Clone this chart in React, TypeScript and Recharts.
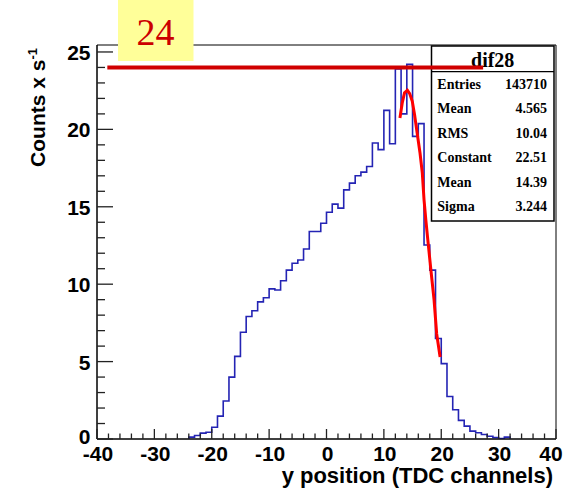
import React from "react";
import { LineChart, Line, XAxis, YAxis, ReferenceArea, ReferenceLine } from "recharts";

// histogram bins (low edge, width 1 channel) and rates
const BIN_LOW = [
    -24, -23, -22, -21, -20, -19, -18, -17, -16, -15, -14, -13, -12, -11,
    -10, -9, -8, -7, -6, -5, -4, -3, -2, -1, 0, 1, 2, 3,
    4, 5, 6, 7, 8, 9, 10, 11, 12, 13, 14, 15, 16, 17,
    18, 19, 20, 21, 22, 23, 24, 25, 26, 27, 28, 29, 30, 31,
];
const COUNTS = [
    0.12, 0.23, 0.38, 0.44, 0.76, 1.48, 2.45, 4.0, 5.34, 6.9, 7.91, 8.28, 8.86, 9.12,
    9.7, 9.62, 10.22, 10.91, 11.35, 11.56, 12.27, 13.4, 13.4, 13.94, 14.65, 15.17, 14.91, 16.09,
    16.53, 17.0, 17.24, 17.6, 19.12, 18.69, 21.23, 19.07, 23.9, 21.0, 24.2, 19.55, 20.37, 12.53,
    10.91, 6.49, 4.87, 2.75, 1.89, 1.2, 0.83, 0.51, 0.4, 0.29, 0.18, 0.1, 0.03, 0.12,
];
const HIST_END = 32;

// gaussian fit curve as drawn
const FIT_X = [12.8, 13.2, 13.6, 14.1, 14.5, 14.95, 15.35, 15.8, 16.3, 16.7, 17.0, 17.3, 17.6, 18.2, 18.75, 19.2, 19.8];
const FIT_Y = [20.74, 21.71, 22.36, 22.53, 22.31, 21.81, 20.95, 19.77, 18.47, 17.17, 15.45, 14.2, 13.07, 10.9, 8.97, 6.8, 5.3];

const X_TICKS = [
    -40, -38, -36, -34, -32, -30, -28, -26, -24, -22, -20, -18, -16, -14, -12, -10, -8, -6, -4, -2,
    0, 2, 4, 6, 8, 10, 12, 14, 16, 18, 20, 22, 24, 26, 28, 30, 32, 34, 36, 38, 40,
];
const Y_TICKS = [0, 1, 2, 3, 4, 5, 6, 7, 8, 9, 10, 11, 12, 13, 14, 15, 16, 17, 18, 19, 20, 21, 22, 23, 24, 25];
const Y_MAX = 25.45;

const MARKER_LEVEL = 24;
const MARKER_FROM = -38.2;
const MARKER_TO = 27.3;

const STATS_TITLE = "dif28";
const STATS_NAMES = ["Entries", "Mean", "RMS", "Constant", "Mean", "Sigma"];
const STATS_VALUES = ["143710", "4.565", "10.04", "22.51", "14.39", "3.244"];

const SANS = "'Liberation Sans', Arial, sans-serif";
const SERIF = "'Liberation Serif', 'Times New Roman', serif";

const histData = [
    { x: BIN_LOW[0], h: 0 },
    ...BIN_LOW.map((lo, i) => ({ x: lo, h: COUNTS[i] })),
    { x: HIST_END, h: 0 },
];
const fitData = FIT_X.map((x, i) => ({ x, y: FIT_Y[i] }));

function XTick({ x, y, payload }: any) {
    const major = payload.value % 10 === 0;
    // keep the last label inside the canvas, like the original
    const lx = Math.min(x + 1, 551);
    return (
        <g>
            <line x1={x} x2={x} y1={y} y2={y - (major ? 10 : 5.5)} stroke="#222" strokeWidth={1.3} />
            {major && (
                <text x={lx} y={y + 21.5} textAnchor="middle" fontFamily={SANS} fontWeight="bold" fontSize={21} fill="#000">
                    {payload.value}
                </text>
            )}
        </g>
    );
}

function YTick({ x, y, payload }: any) {
    const major = payload.value % 5 === 0;
    // the zero label sits a little higher so it clears the x labels
    const dy = payload.value === 0 ? 4.5 : 8;
    return (
        <g>
            <line x1={x} x2={x + (major ? 16 : 8)} y1={y} y2={y} stroke="#222" strokeWidth={1.3} />
            {major && (
                <text x={x - 6.5} y={y + dy} textAnchor="end" fontFamily={SANS} fontWeight="bold" fontSize={21} fill="#000">
                    {payload.value}
                </text>
            )}
        </g>
    );
}

function StatsBox() {
    return (
        <g>
            <rect x={431.5} y={46} width={122.5} height={175} fill="#fff" stroke="#000" strokeWidth={1.5} />
            <line x1={431.5} x2={554} y1={71.7} y2={71.7} stroke="#000" strokeWidth={1.2} />
            <text x={492.7} y={66.5} textAnchor="middle" fontFamily={SERIF} fontWeight="bold" fontSize={20} fill="#000">
                {STATS_TITLE}
            </text>
            {STATS_NAMES.map((name, i) => (
                <g key={i}>
                    <text x={437.3} y={89 + i * 24.4} fontFamily={SERIF} fontWeight="bold" fontSize={14} fill="#000">
                        {name}
                    </text>
                    <text x={547} y={89 + i * 24.4} textAnchor="end" fontFamily={SERIF} fontWeight="bold" fontSize={14} fill="#000">
                        {STATS_VALUES[i]}
                    </text>
                </g>
            ))}
        </g>
    );
}

export default function App() {
    return (
        <div style={{ position: "absolute", left: 0, top: 0, width: 564, height: 489, background: "#fff" }}>
            <LineChart width={564} height={489} margin={{ top: 45, right: 8, left: 0, bottom: 0 }}>
                <XAxis
                    type="number"
                    dataKey="x"
                    domain={[-40, 40]}
                    ticks={X_TICKS}
                    interval={0}
                    tickSize={0}
                    tickMargin={0}
                    tick={<XTick />}
                    axisLine={{ stroke: "#000" }}
                    height={50}
                    allowDataOverflow
                />
                <YAxis
                    type="number"
                    domain={[0, Y_MAX]}
                    ticks={Y_TICKS}
                    interval={0}
                    tickSize={0}
                    tickMargin={0}
                    tick={<YTick />}
                    axisLine={{ stroke: "#000" }}
                    width={97}
                    allowDataOverflow
                />
                <ReferenceArea x1={-40} x2={40} y1={0} y2={Y_MAX} fill="none" stroke="#000" strokeWidth={1} />
                <Line
                    data={histData}
                    dataKey="h"
                    type="stepAfter"
                    stroke="#2424b4"
                    strokeWidth={1.6}
                    dot={false}
                    activeDot={false}
                    isAnimationActive={false}
                />
                <Line
                    data={fitData}
                    dataKey="y"
                    type="linear"
                    stroke="#ff0000"
                    strokeWidth={3}
                    dot={false}
                    activeDot={false}
                    isAnimationActive={false}
                />
                <StatsBox />
                <ReferenceLine
                    segment={[{ x: MARKER_FROM, y: MARKER_LEVEL }, { x: MARKER_TO, y: MARKER_LEVEL }]}
                    stroke="#d00000"
                    strokeWidth={4}
                    ifOverflow="visible"
                />
            </LineChart>
            <svg width={564} height={489} style={{ position: "absolute", left: 0, top: 0, pointerEvents: "none" }}>
                <text
                    transform="translate(45,48) rotate(-90)"
                    textAnchor="end"
                    fontFamily={SANS}
                    fontWeight="bold"
                    fontSize={21}
                    fill="#000"
                >
                    Counts x s<tspan dy={-8} fontSize={13}>-1</tspan>
                </text>
                <text x={553} y={483} textAnchor="end" fontFamily={SANS} fontWeight="bold" fontSize={22} fill="#000">
                    y position (TDC channels)
                </text>
                <rect x={118} y={0} width={75.5} height={61} fill="#ffff99" />
                <text x={155.5} y={45} textAnchor="middle" fontFamily={SERIF} fontSize={38} fill="#cc0000">
                    24
                </text>
            </svg>
        </div>
    );
}
